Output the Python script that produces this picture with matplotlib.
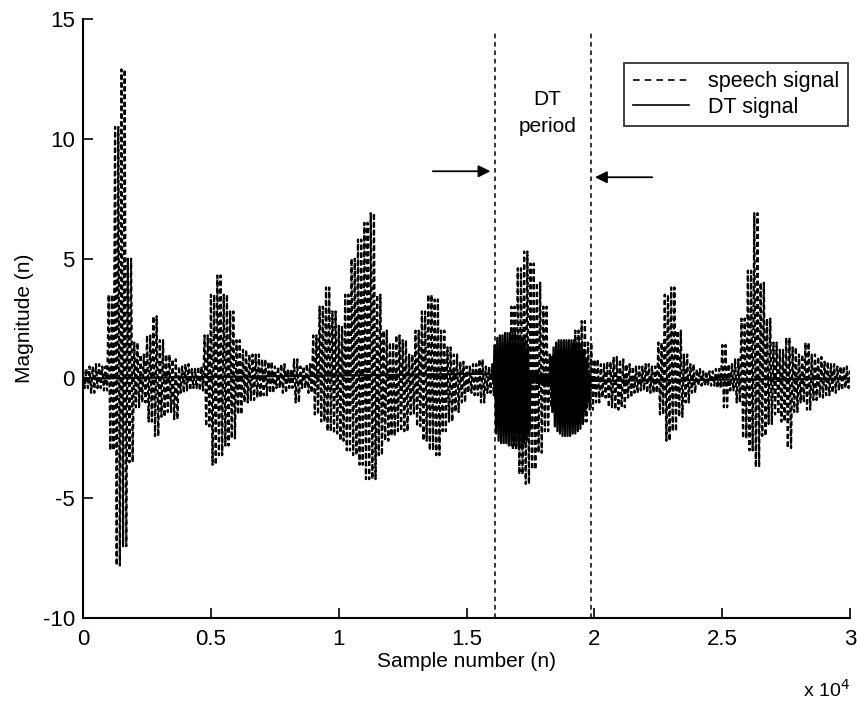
import numpy as np
import matplotlib
matplotlib.use("Agg")
import matplotlib.pyplot as plt
from matplotlib.lines import Line2D
from matplotlib.ticker import FixedLocator, FixedFormatter

plt.rcParams['font.family'] = ['Liberation Sans', 'DejaVu Sans']
plt.rcParams['axes.unicode_minus'] = False

# speech signal: upper / lower envelope read every 250 samples (0 .. 30000)
speech_step = 250
speech_upper = [
    0.4, 0.5, 0.6, 0.5, 3.5, 10.5, 12.9, 5.0, 1.5, 1.0,
    1.8, 2.6, 1.6, 1.0, 0.8, 0.5, 0.6, 0.4, 0.5, 1.8,
    3.5, 4.3, 3.5, 2.8, 1.6, 1.2, 1.0, 1.0, 0.8, 0.7,
    0.5, 0.6, 0.4, 0.8, 0.5, 0.6, 1.8, 3.0, 3.8, 2.8,
    2.2, 3.5, 5.0, 5.8, 6.5, 6.9, 3.5, 2.0, 1.5, 1.8,
    1.6, 1.0, 2.0, 2.8, 3.5, 3.3, 2.0, 1.3, 1.0, 0.7,
    0.5, 0.6, 0.8, 0.5, 0.6, 0.8, 1.5, 3.0, 4.6, 5.3,
    4.8, 4.0, 3.0, 1.0, 1.0, 1.2, 1.5, 2.0, 2.4, 1.5,
    0.8, 0.6, 0.7, 0.9, 0.8, 0.6, 0.5, 0.5, 0.6, 0.5,
    1.5, 3.5, 3.8, 2.0, 1.0, 0.6, 0.4, 0.3, 0.3, 0.4,
    1.4, 0.6, 0.8, 2.5, 4.5, 6.9, 4.0, 2.5, 1.5, 1.2,
    1.7, 1.3, 1.0, 1.5, 1.0, 0.9, 0.7, 0.6, 0.5, 0.5,
    0.3,
]
speech_lower = [
    -0.4, -0.6, -0.4, -0.5, -3.0, -7.8, -7.0, -3.5, -1.2, -1.0,
    -1.8, -2.4, -1.6, -1.4, -1.7, -0.6, -0.5, -0.4, -0.5, -2.0,
    -3.6, -3.2, -2.8, -2.5, -1.5, -1.0, -0.9, -0.8, -0.7, -0.6,
    -0.4, -0.6, -0.4, -1.0, -0.4, -0.6, -1.5, -1.8, -2.2, -2.3,
    -2.6, -3.0, -3.2, -3.6, -4.2, -4.2, -3.2, -2.6, -2.4, -2.2,
    -2.2, -1.5, -2.0, -2.6, -3.0, -3.2, -2.2, -1.8, -1.4, -1.0,
    -0.6, -0.7, -1.0, -0.6, -0.7, -1.0, -1.8, -3.0, -4.0, -4.4,
    -3.8, -3.1, -2.2, -1.2, -1.2, -1.5, -1.7, -1.9, -1.8, -1.3,
    -1.0, -0.8, -1.2, -1.3, -1.2, -0.8, -0.6, -0.5, -0.6, -0.6,
    -1.5, -2.6, -2.2, -1.6, -1.0, -0.6, -0.3, -0.3, -0.3, -0.4,
    -1.2, -0.5, -1.0, -2.5, -3.0, -3.7, -2.4, -1.9, -1.5, -1.8,
    -2.9, -1.4, -1.0, -1.3, -0.9, -0.8, -0.7, -0.6, -0.5, -0.4,
    -0.3,
]

# DT signal envelope inside the DT period, every 100 samples (16000 .. 19800)
dt_start = 16000
dt_step = 100
dt_upper = [
    0.2, 1.4, 1.7, 1.8, 1.8, 1.9, 1.9, 1.9, 1.9, 1.9,
    1.8, 1.8, 1.7, 1.6, 1.3, 0.2, 0.2, 0.2, 0.2, 0.2,
    0.2, 0.2, 0.2, 0.9, 1.3, 1.5, 1.6, 1.6, 1.6, 1.6,
    1.6, 1.6, 1.6, 1.5, 1.5, 1.4, 1.2, 0.8, 0.1,
]
dt_lower = [
    -0.2, -2.3, -2.6, -2.7, -2.7, -2.7, -2.8, -2.8, -2.8, -2.8,
    -2.8, -2.8, -2.7, -2.6, -2.2, -0.2, -0.2, -0.2, -0.2, -0.2,
    -0.2, -0.2, -0.2, -1.4, -2.0, -2.2, -2.3, -2.4, -2.4, -2.4,
    -2.4, -2.3, -2.3, -2.2, -2.1, -1.9, -1.4, -1.0, -0.1,
]
dt_end_sample = 29900

# DT period markers
dt_period = [16100, 19850]
xticks = [0, 5000, 10000, 15000, 20000, 25000, 30000]
xtick_labels = ['0', '0.5', '1', '1.5', '2', '2.5', '3']
yticks = [-10, -5, 0, 5, 10, 15]


def zigzag(start, step, upper, lower, cycles=1):
    # swing between the upper and lower envelope value of each knot
    n = len(upper)
    pos = start + step * np.arange(n)
    xs, ys = [], []
    for i in range(n):
        for c in range(cycles):
            xs += [pos[i] + step * c / cycles,
                   pos[i] + step * (c + 0.5) / cycles]
            ys += [upper[i], lower[i]]
    return np.array(xs), np.array(ys)


fig = plt.figure(figsize=(8.57, 7.08), dpi=100)
ax = fig.add_axes([0.097, 0.127, 0.895, 0.846])

sx, sy = zigzag(0, speech_step, speech_upper, speech_lower, cycles=2)
ax.plot(sx, sy, color='black', lw=1.6, linestyle=(0, (2.2, 1.3)))

dx, dy = zigzag(dt_start, dt_step, dt_upper, dt_lower)
dx = np.concatenate([[0], dx, [dt_end_sample]])
dy = np.concatenate([[0.0], dy, [0.0]])
ax.plot(dx, dy, color='black', lw=1.6)

# vertical dashed lines marking DT period
for xv in dt_period:
    ax.plot([xv, xv], [-10, 14.5], color='black', lw=1.1,
            linestyle=(0, (3, 2.5)))

ax.annotate('', xy=(dt_period[0] - 60, 8.65), xytext=(13570, 8.65),
            arrowprops=dict(arrowstyle='-|>', color='black', lw=1.3,
                            mutation_scale=18))
ax.annotate('', xy=(dt_period[1] + 60, 8.4), xytext=(22370, 8.4),
            arrowprops=dict(arrowstyle='-|>', color='black', lw=1.3,
                            mutation_scale=18))
ax.text(18150, 11.65, 'DT', ha='center', va='center', fontsize=15)
ax.text(18150, 10.5, 'period', ha='center', va='center', fontsize=15)

ax.set_xlim(0, 30000)
ax.set_ylim(-10, 15)
ax.xaxis.set_major_locator(FixedLocator(xticks))
ax.xaxis.set_major_formatter(FixedFormatter(xtick_labels))
ax.set_yticks(yticks)
ax.tick_params(direction='in', length=7, width=1.2, labelsize=16, pad=6)
ax.tick_params(axis='x', pad=8)
for s in ['top', 'right']:
    ax.spines[s].set_visible(False)
for s in ['left', 'bottom']:
    ax.spines[s].set_linewidth(1.5)

ax.set_xlabel('Sample number (n)', fontsize=15, labelpad=1)
ax.set_ylabel('Magnitude (n)', fontsize=15, labelpad=6)
fig.text(0.992, 0.01, r'x 10$^4$', ha='right', va='bottom', fontsize=14)

# legend handles with the plain dash look of the original
handles = [Line2D([], [], color='black', lw=1.2, linestyle=(0, (4, 3))),
           Line2D([], [], color='black', lw=1.2)]
leg = ax.legend(handles, ['speech signal', 'DT signal'],
                loc='upper right', bbox_to_anchor=(0.997, 0.927),
                borderaxespad=0, fontsize=15.5, frameon=True,
                fancybox=False, handlelength=2.6, borderpad=0.4,
                labelspacing=0.2, handletextpad=0.9)
leg.get_frame().set_edgecolor('black')
leg.get_frame().set_linewidth(1.3)

fig.savefig('out.png', dpi=100)
